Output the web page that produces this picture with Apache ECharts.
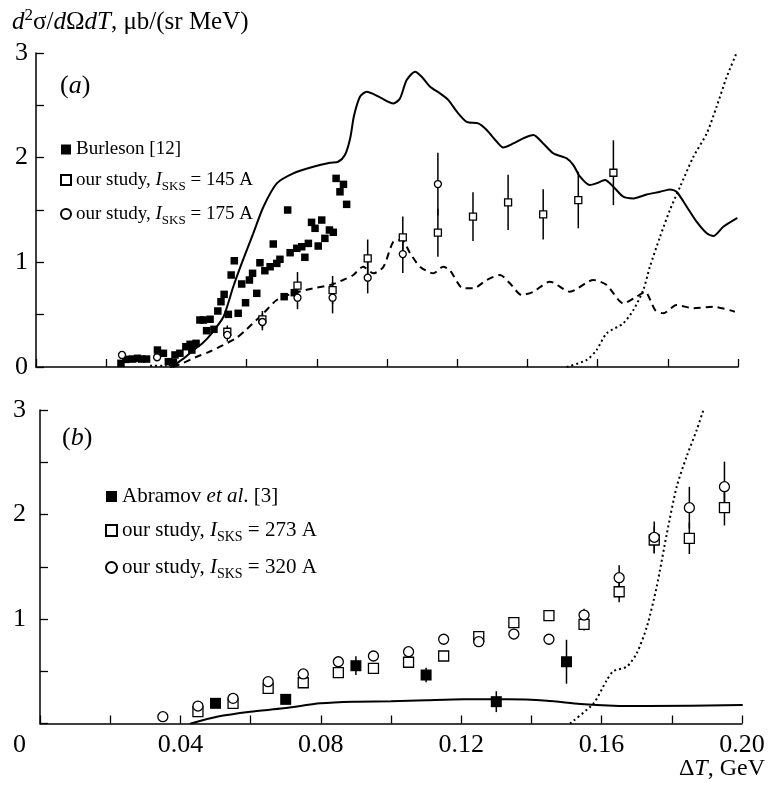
<!DOCTYPE html>
<html>
<head>
<meta charset="utf-8">
<script src="https://cdn.jsdelivr.net/npm/echarts@6/dist/echarts.min.js"></script>
<style>
  html, body { margin: 0; padding: 0; background: #fff; }
  #chart { width: 769px; height: 785px; }
</style>
</head>
<body>
<div id="chart"></div>
<script>
// ---- Panel (a): measured points [ΔT (GeV), value, error] ----
const burlesonA = [
  [0.0242,0.035],[0.0256,0.073],[0.0275,0.076],[0.0289,0.083],[0.0301,0.076],[0.0315,0.076],
  [0.0346,0.162],[0.0363,0.131],[0.0377,0.051],[0.0389,0.045],[0.0396,0.115],[0.0410,0.131],
  [0.0427,0.194],[0.0439,0.217],[0.0444,0.162],[0.0456,0.226],[0.0467,0.449],[0.0477,0.449],
  [0.0486,0.347],[0.0496,0.456],[0.0507,0.360],[0.0518,0.535],[0.0527,0.624],[0.0536,0.694],
  [0.0548,0.503],[0.0556,0.879],[0.0565,1.015],[0.0576,0.513],[0.0586,0.793],[0.0597,0.614],
  [0.0608,0.831],[0.0617,0.895],[0.0629,0.704],[0.0638,0.996],[0.0652,0.920],[0.0667,0.958],
  [0.0676,1.175],[0.0686,0.990],[0.0695,1.029],[0.0707,0.672],[0.0717,1.500],[0.0724,1.092],
  [0.0736,0.710],[0.0743,1.134],[0.0757,1.149],[0.0766,1.048],[0.0776,1.181],[0.0785,1.382],
  [0.0795,1.325],[0.0804,1.156],[0.0814,1.404],[0.0823,1.229],[0.0836,1.309],[0.0847,1.287],
  [0.0855,1.802],[0.0866,1.674],[0.0876,1.745],[0.0885,1.554]
];
const study145 = [
  [0.0545,0.337,0.06],[0.0645,0.455,0.08],[0.0745,0.777,0.13],[0.0845,0.735,0.135],
  [0.0945,1.038,0.18],[0.1045,1.239,0.20],[0.1145,1.283,0.23],[0.1245,1.436,0.233],
  [0.1345,1.573,0.263],[0.1445,1.458,0.24],[0.1545,1.595,0.27],[0.1645,1.856,0.31]
];
const study175 = [
  [0.0245,0.115,0.03],[0.0345,0.093,0.02],[0.0545,0.306,0.06],[0.0645,0.430,0.08],
  [0.0745,0.662,0.11],[0.0845,0.662,0.15],[0.0945,0.853,0.15],[0.1045,1.079,0.18],
  [0.1145,1.748,0.30]
];
// Panel (a): calculated curves
const solidA = [
  [0.0385,0.0],[0.0420,0.08],[0.0448,0.16],[0.0475,0.23],[0.0500,0.32],[0.0534,0.48],[0.0562,0.767],
  [0.0586,0.99],[0.0619,1.277],[0.0648,1.531],[0.0686,1.754],[0.0733,1.850],[0.0790,1.913],
  [0.0838,1.951],[0.0861,1.961],[0.0880,2.025],[0.0895,2.184],[0.0906,2.40],[0.0923,2.582],
  [0.0942,2.629],[0.0980,2.576],[0.1018,2.518],[0.1037,2.566],[0.1056,2.741],[0.1080,2.821],
  [0.1099,2.773],[0.1123,2.677],[0.1151,2.614],[0.1175,2.550],[0.1199,2.439],[0.1227,2.343],
  [0.1260,2.327],[0.1284,2.264],[0.1313,2.152],[0.1331,2.098],[0.1360,2.136],[0.1388,2.184],
  [0.1417,2.216],[0.1445,2.136],[0.1474,2.041],[0.1512,1.993],[0.1531,1.929],[0.1550,1.818],
  [0.1578,1.738],[0.1597,1.755],[0.1621,1.786],[0.1645,1.722],[0.1673,1.627],[0.1702,1.611],
  [0.1740,1.648],[0.1778,1.674],[0.1806,1.697],[0.1825,1.674],[0.1854,1.531],[0.1882,1.388],
  [0.1911,1.277],[0.1930,1.251],[0.1958,1.340],[0.1996,1.420]
];
const dashedA = [
  [0.0390,0.0],[0.0420,0.04],[0.0458,0.098],[0.0490,0.14],[0.0524,0.194],[0.0572,0.28],[0.0600,0.36],
  [0.0648,0.513],[0.0686,0.64],[0.0733,0.704],[0.0790,0.752],[0.0838,0.783],[0.0875,0.831],
  [0.0904,0.879],[0.0932,0.958],[0.0961,0.895],[0.0990,0.958],[0.1018,1.197],[0.1042,1.213],
  [0.1066,1.086],[0.1094,0.958],[0.1132,0.895],[0.1160,0.958],[0.1179,0.926],[0.1217,0.752],
  [0.1246,0.752],[0.1284,0.831],[0.1322,0.879],[0.1350,0.800],[0.1384,0.688],[0.1417,0.719],
  [0.1464,0.815],[0.1521,0.719],[0.1588,0.831],[0.1626,0.783],[0.1673,0.608],[0.1711,0.672],
  [0.1735,0.719],[0.1764,0.544],[0.1787,0.513],[0.1825,0.592],[0.1873,0.561],[0.1930,0.576],
  [0.1991,0.528]
];
const dottedA1 = [[0.0325,0.012],[0.0372,0.012]];
const dottedA2 = [
  [0.1512,0.0],[0.1569,0.067],[0.1597,0.162],[0.1626,0.322],[0.1673,0.417],[0.1702,0.544],
  [0.1730,0.735],[0.1749,0.958],[0.1778,1.245],[0.1806,1.5],[0.1835,1.722],[0.1873,2.009],
  [0.1911,2.232],[0.1939,2.486],[0.1968,2.773],[0.1996,3.0]
];

// ---- Panel (b): measured points [ΔT (GeV), value, error] ----
const abramovB = [
  [0.05,0.193,0.03],[0.07,0.231,0.04],[0.09,0.553,0.09],[0.11,0.464,0.07],[0.13,0.209,0.10],[0.15,0.591,0.21]
];
const study273 = [
  [0.045,0.113,0.03],[0.055,0.193,0.03],[0.065,0.337,0.03],[0.075,0.390,0.03],[0.085,0.486,0.04],
  [0.095,0.528,0.04],[0.105,0.586,0.04],[0.115,0.646,0.04],[0.125,0.831,0.05],[0.135,0.965,0.05],
  [0.145,1.032,0.05],[0.155,0.949,0.06],[0.165,1.261,0.10],[0.175,1.756,0.13],[0.185,1.772,0.15],
  [0.195,2.065,0.17]
];
const study320 = [
  [0.035,0.065,0.03],[0.045,0.167,0.03],[0.055,0.241,0.03],[0.065,0.400,0.03],[0.075,0.474,0.03],
  [0.085,0.591,0.04],[0.095,0.646,0.04],[0.105,0.687,0.04],[0.115,0.806,0.04],[0.125,0.783,0.05],
  [0.135,0.856,0.05],[0.145,0.806,0.05],[0.155,1.038,0.06],[0.165,1.395,0.12],[0.175,1.782,0.15],
  [0.185,2.065,0.20],[0.195,2.266,0.24]
];
// Panel (b): calculated curves
const solidB = [
  [0.043,0.0],[0.0504,0.065],[0.0599,0.113],[0.0694,0.145],[0.0799,0.193],[0.0893,0.209],
  [0.1000,0.212],[0.1100,0.222],[0.1207,0.231],[0.1330,0.231],[0.1444,0.218],[0.1539,0.187],
  [0.1634,0.170],[0.1729,0.167],[0.2000,0.177]
];
const dottedB = [
  [0.151,0.0],[0.1577,0.193],[0.1615,0.416],[0.1634,0.502],[0.1672,0.544],[0.170,0.672],
  [0.1729,0.926],[0.1757,1.309],[0.1786,1.82],[0.1814,2.266],[0.1842,2.553],[0.1871,2.809],[0.189,3.0]
];

const FONT = '"Liberation Serif", "Times New Roman", serif';
const INK = '#000';

const pts = arr => arr.map(d => [d[0], d[1]]);
const bars = arr => arr.filter(d => d[2] > 0).map(d => [d[0], d[1] - d[2], d[1] + d[2]]);

function errorBars(idx, arr) {
  return {
    type: 'custom', xAxisIndex: idx, yAxisIndex: idx, silent: true, z: 2,
    data: bars(arr),
    encode: { x: 0, y: [1, 2] },
    renderItem: (params, api) => {
      const a = api.coord([api.value(0), api.value(1)]);
      const b = api.coord([api.value(0), api.value(2)]);
      return { type: 'line', shape: { x1: a[0], y1: a[1], x2: b[0], y2: b[1] },
               style: { stroke: INK, lineWidth: 1.5 } };
    }
  };
}
function curve(idx, data, type) {
  return {
    type: 'line', xAxisIndex: idx, yAxisIndex: idx, data, showSymbol: false, smooth: 0.25,
    silent: true, z: 3,
    lineStyle: { color: INK, width: 2, type: type, cap: type === 'solid' ? 'round' : 'butt' }
  };
}
function marks(idx, name, data, symbol, size, filled) {
  return {
    type: 'scatter', name, xAxisIndex: idx, yAxisIndex: idx, data: pts(data),
    symbol, symbolSize: size, z: 5,
    itemStyle: filled ? { color: INK, borderColor: INK, borderWidth: 0, opacity: 1 }
                      : { color: '#fff', borderColor: INK, borderWidth: 1.3, opacity: 1 }
  };
}

function xAxis(idx, showLabels) {
  return {
    type: 'value', gridIndex: idx, min: 0, max: 0.2, interval: 0.02,
    axisLine: { lineStyle: { color: INK, width: 1.5 } },
    axisTick: { inside: true, length: 8, lineStyle: { color: INK, width: 1.3 } },
    splitLine: { show: false },
    axisLabel: {
      show: showLabels, color: INK, fontFamily: FONT, fontSize: 26, margin: 9,
      formatter: v => {
        const k = Math.round(v * 100);
        return (k > 0 && k % 4 === 0) ? (k / 100).toFixed(2) : '';
      }
    }
  };
}
function yAxis(idx, showZero, margin) {
  return {
    type: 'value', gridIndex: idx, min: 0, max: 3, interval: 0.5,
    axisLine: { show: true, lineStyle: { color: INK, width: 1.5 } },
    axisTick: { show: true, inside: true, length: 8, lineStyle: { color: INK, width: 1.3 } },
    splitLine: { show: false },
    axisLabel: {
      color: INK, fontFamily: FONT, fontSize: 26, margin,
      formatter: v => (Number.isInteger(v) && (showZero || v > 0)) ? String(v) : ''
    }
  };
}

const legendRich = size => ({
  t: { fontFamily: FONT, fontSize: size, color: INK, lineHeight: 26 },
  i: { fontFamily: FONT, fontSize: size, fontStyle: 'italic', color: INK, lineHeight: 26 },
  s: { fontFamily: FONT, fontSize: Math.round(size * 0.68), color: INK, lineHeight: 13, padding: [13, 0, 0, 0] }
});
const legendLabels = {
  'Burleson [12]': '{t|Burleson [12]}',
  'our study, 145 A': '{t|our study, }{i|I}{s|SKS}{t| = 145 A}',
  'our study, 175 A': '{t|our study, }{i|I}{s|SKS}{t| = 175 A}',
  'Abramov et al. [3]': '{t|Abramov }{i|et al}{t|. [3]}',
  'our study, 273 A': '{t|our study, }{i|I}{s|SKS}{t| = 273 A}',
  'our study, 320 A': '{t|our study, }{i|I}{s|SKS}{t| = 320 A}'
};

const option = {
  animation: false,
  backgroundColor: '#fff',
  grid: [
    { left: 36, top: 53, width: 702, height: 314 },
    { left: 40, top: 410, width: 702, height: 313.5 }
  ],
  xAxis: [xAxis(0, false), xAxis(1, true)],
  yAxis: [yAxis(0, true, 8), yAxis(1, false, 14)],
  legend: [
    {
      left: 55, top: 135, orient: 'vertical', itemGap: 8, itemWidth: 10, itemHeight: 10,
      selectedMode: false,
      data: ['Burleson [12]', 'our study, 145 A', 'our study, 175 A'],
      formatter: n => legendLabels[n],
      textStyle: { rich: legendRich(19) }
    },
    {
      left: 100, top: 481, orient: 'vertical', itemGap: 10, itemWidth: 11, itemHeight: 11,
      selectedMode: false,
      data: ['Abramov et al. [3]', 'our study, 273 A', 'our study, 320 A'],
      formatter: n => legendLabels[n],
      textStyle: { rich: legendRich(21) }
    }
  ],
  graphic: [
    {
      type: 'text', left: 12, top: 7,
      style: {
        text: '{i|d}{sup|2}{n|σ/}{i|d}{n|Ω}{i|dT}{n|, μb/(sr MeV)}',
        rich: {
          n: { fontFamily: FONT, fontSize: 25, fill: INK, lineHeight: 30 },
          i: { fontFamily: FONT, fontSize: 25, fontStyle: 'italic', fill: INK, lineHeight: 30 },
          sup: { fontFamily: FONT, fontSize: 17, fill: INK, lineHeight: 17, padding: [0, 0, 14, 0] }
        }
      }
    },
    {
      type: 'text', left: 60, top: 73,
      style: { text: '{n|(}{i|a}{n|)}', rich: {
        n: { fontFamily: FONT, fontSize: 26, fill: INK }, i: { fontFamily: FONT, fontSize: 26, fontStyle: 'italic', fill: INK } } }
    },
    {
      type: 'text', left: 62, top: 425,
      style: { text: '{n|(}{i|b}{n|)}', rich: {
        n: { fontFamily: FONT, fontSize: 26, fill: INK }, i: { fontFamily: FONT, fontSize: 26, fontStyle: 'italic', fill: INK } } }
    },
    {
      type: 'text', left: 13, top: 732,
      style: { text: '0', fontFamily: FONT, fontSize: 26, fill: INK }
    },
    {
      type: 'text', right: 4, top: 757,
      style: { text: '{n|Δ}{i|T}{n|, GeV}', rich: {
        n: { fontFamily: FONT, fontSize: 24, fill: INK }, i: { fontFamily: FONT, fontSize: 24, fontStyle: 'italic', fill: INK } } }
    }
  ],
  series: [
    curve(0, solidA, 'solid'),
    curve(0, dashedA, [7, 5]),
    curve(0, dottedA1, [2, 3]),
    curve(0, dottedA2, [2, 3]),
    errorBars(0, study145),
    errorBars(0, study175),
    marks(0, 'Burleson [12]', burlesonA, 'rect', 7.5, true),
    marks(0, 'our study, 145 A', study145, 'rect', 7, false),
    marks(0, 'our study, 175 A', study175, 'circle', 7, false),

    curve(1, solidB, 'solid'),
    curve(1, dottedB, [2, 3]),
    errorBars(1, abramovB),
    errorBars(1, study273),
    errorBars(1, study320),
    marks(1, 'Abramov et al. [3]', abramovB, 'rect', 11, true),
    marks(1, 'our study, 273 A', study273, 'rect', 10, false),
    marks(1, 'our study, 320 A', study320, 'circle', 10, false)
  ]
};

echarts.init(document.getElementById('chart'), null, { renderer: 'canvas' }).setOption(option);
</script>
</body>
</html>
